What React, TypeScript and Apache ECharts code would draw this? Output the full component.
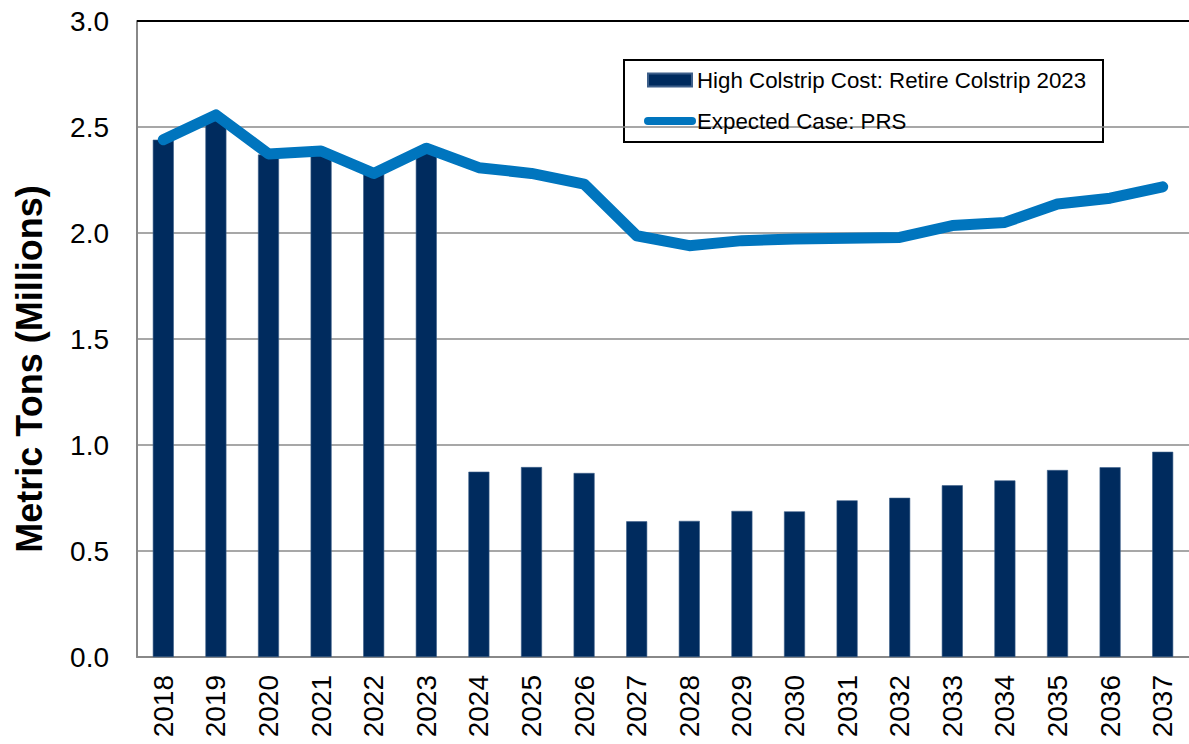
import React, { useEffect, useRef } from "react";
import * as echarts from "echarts";

const years = ["2018","2019","2020","2021","2022","2023","2024","2025","2026","2027","2028","2029","2030","2031","2032","2033","2034","2035","2036","2037"];
const highColstrip = [2.44, 2.53, 2.37, 2.38, 2.28, 2.39, 0.874, 0.896, 0.868, 0.64, 0.642, 0.689, 0.687, 0.739, 0.751, 0.81, 0.833, 0.882, 0.895, 0.968];
const expectedCase = [2.44, 2.557, 2.373, 2.387, 2.281, 2.40, 2.308, 2.281, 2.231, 1.987, 1.94, 1.964, 1.972, 1.975, 1.979, 2.035, 2.05, 2.137, 2.164, 2.218];
const yTicks = { min: 0, max: 3, interval: 0.5 };
const barName = "High Colstrip Cost: Retire Colstrip 2023";
const lineName = "Expected Case: PRS";
const yTitle = "Metric Tons (Millions)";

const FONT = '"Liberation Sans", Arial, Helvetica, sans-serif';

export default function App() {
  const ref = useRef<HTMLDivElement>(null);
  useEffect(() => {
    if (!ref.current) return;
    const chart = echarts.init(ref.current, undefined, { renderer: "svg" });
    chart.setOption({
      animation: false,
      textStyle: { fontFamily: FONT },
      grid: { left: 137, top: 21, width: 1062, height: 636, containLabel: false },
      legend: {
        orient: "vertical",
        left: 644,
        top: 67,
        padding: 0,
        itemWidth: 44,
        itemHeight: 13,
        itemGap: 15,
        textStyle: { fontSize: 22.3, color: "#000", fontFamily: FONT, lineHeight: 26 },
        data: [
          { name: barName, icon: "rect" },
          { name: lineName, lineStyle: { width: 8 }, itemStyle: { opacity: 0 } },
        ],
      },
      xAxis: {
        type: "category",
        data: years,
        axisLine: { show: true, lineStyle: { color: "#888", width: 2 } },
        axisTick: { show: false },
        axisLabel: { rotate: 90, fontSize: 28, color: "#000", margin: 18, fontFamily: FONT, interval: 0 },
      },
      yAxis: {
        type: "value",
        min: yTicks.min,
        max: yTicks.max,
        interval: yTicks.interval,
        axisLine: { show: true, lineStyle: { color: "#888", width: 2 } },
        axisTick: { show: false },
        axisLabel: {
          fontSize: 28,
          color: "#000",
          margin: 28,
          fontFamily: FONT,
          formatter: (v: number) => v.toFixed(1),
        },
        splitLine: { show: true, lineStyle: { color: "#8a8a8a", width: 1.5 } },
      },
      series: [
        {
          name: barName,
          type: "bar",
          data: highColstrip,
          barWidth: 21,
          itemStyle: { color: "#002B5E", borderColor: "#3d5f8a", borderWidth: 0.6 },
          z: 2,
        },
        {
          name: lineName,
          type: "line",
          data: expectedCase,
          symbol: "none",
          showSymbol: false,
          lineStyle: { color: "#0075BE", width: 11, cap: "round", join: "round" },
          itemStyle: { color: "#0075BE" },
          z: 3,
        },
      ],
      graphic: [
        {
          type: "line",
          shape: { x1: 137, y1: 21, x2: 1189, y2: 21 },
          style: { stroke: "#000", lineWidth: 2 },
          z: 10,
        },
        {
          type: "rect",
          shape: { x: 624, y: 60, width: 479, height: 82 },
          style: { fill: "#fff", stroke: "#000", lineWidth: 2 },
          z: 0,
          zlevel: 0,
        },
        {
          type: "text",
          x: 29,
          y: 369,
          rotation: Math.PI / 2,
          style: {
            text: yTitle,
            fontSize: 36,
            fontWeight: "bold",
            fontFamily: FONT,
            fill: "#000",
            align: "center",
            verticalAlign: "middle",
          },
        },
      ],
    });
    return () => chart.dispose();
  }, []);
  return (
    <div
      ref={ref}
      style={{ position: "absolute", left: 0, top: 0, width: 1189, height: 744, background: "#fff" }}
    />
  );
}
